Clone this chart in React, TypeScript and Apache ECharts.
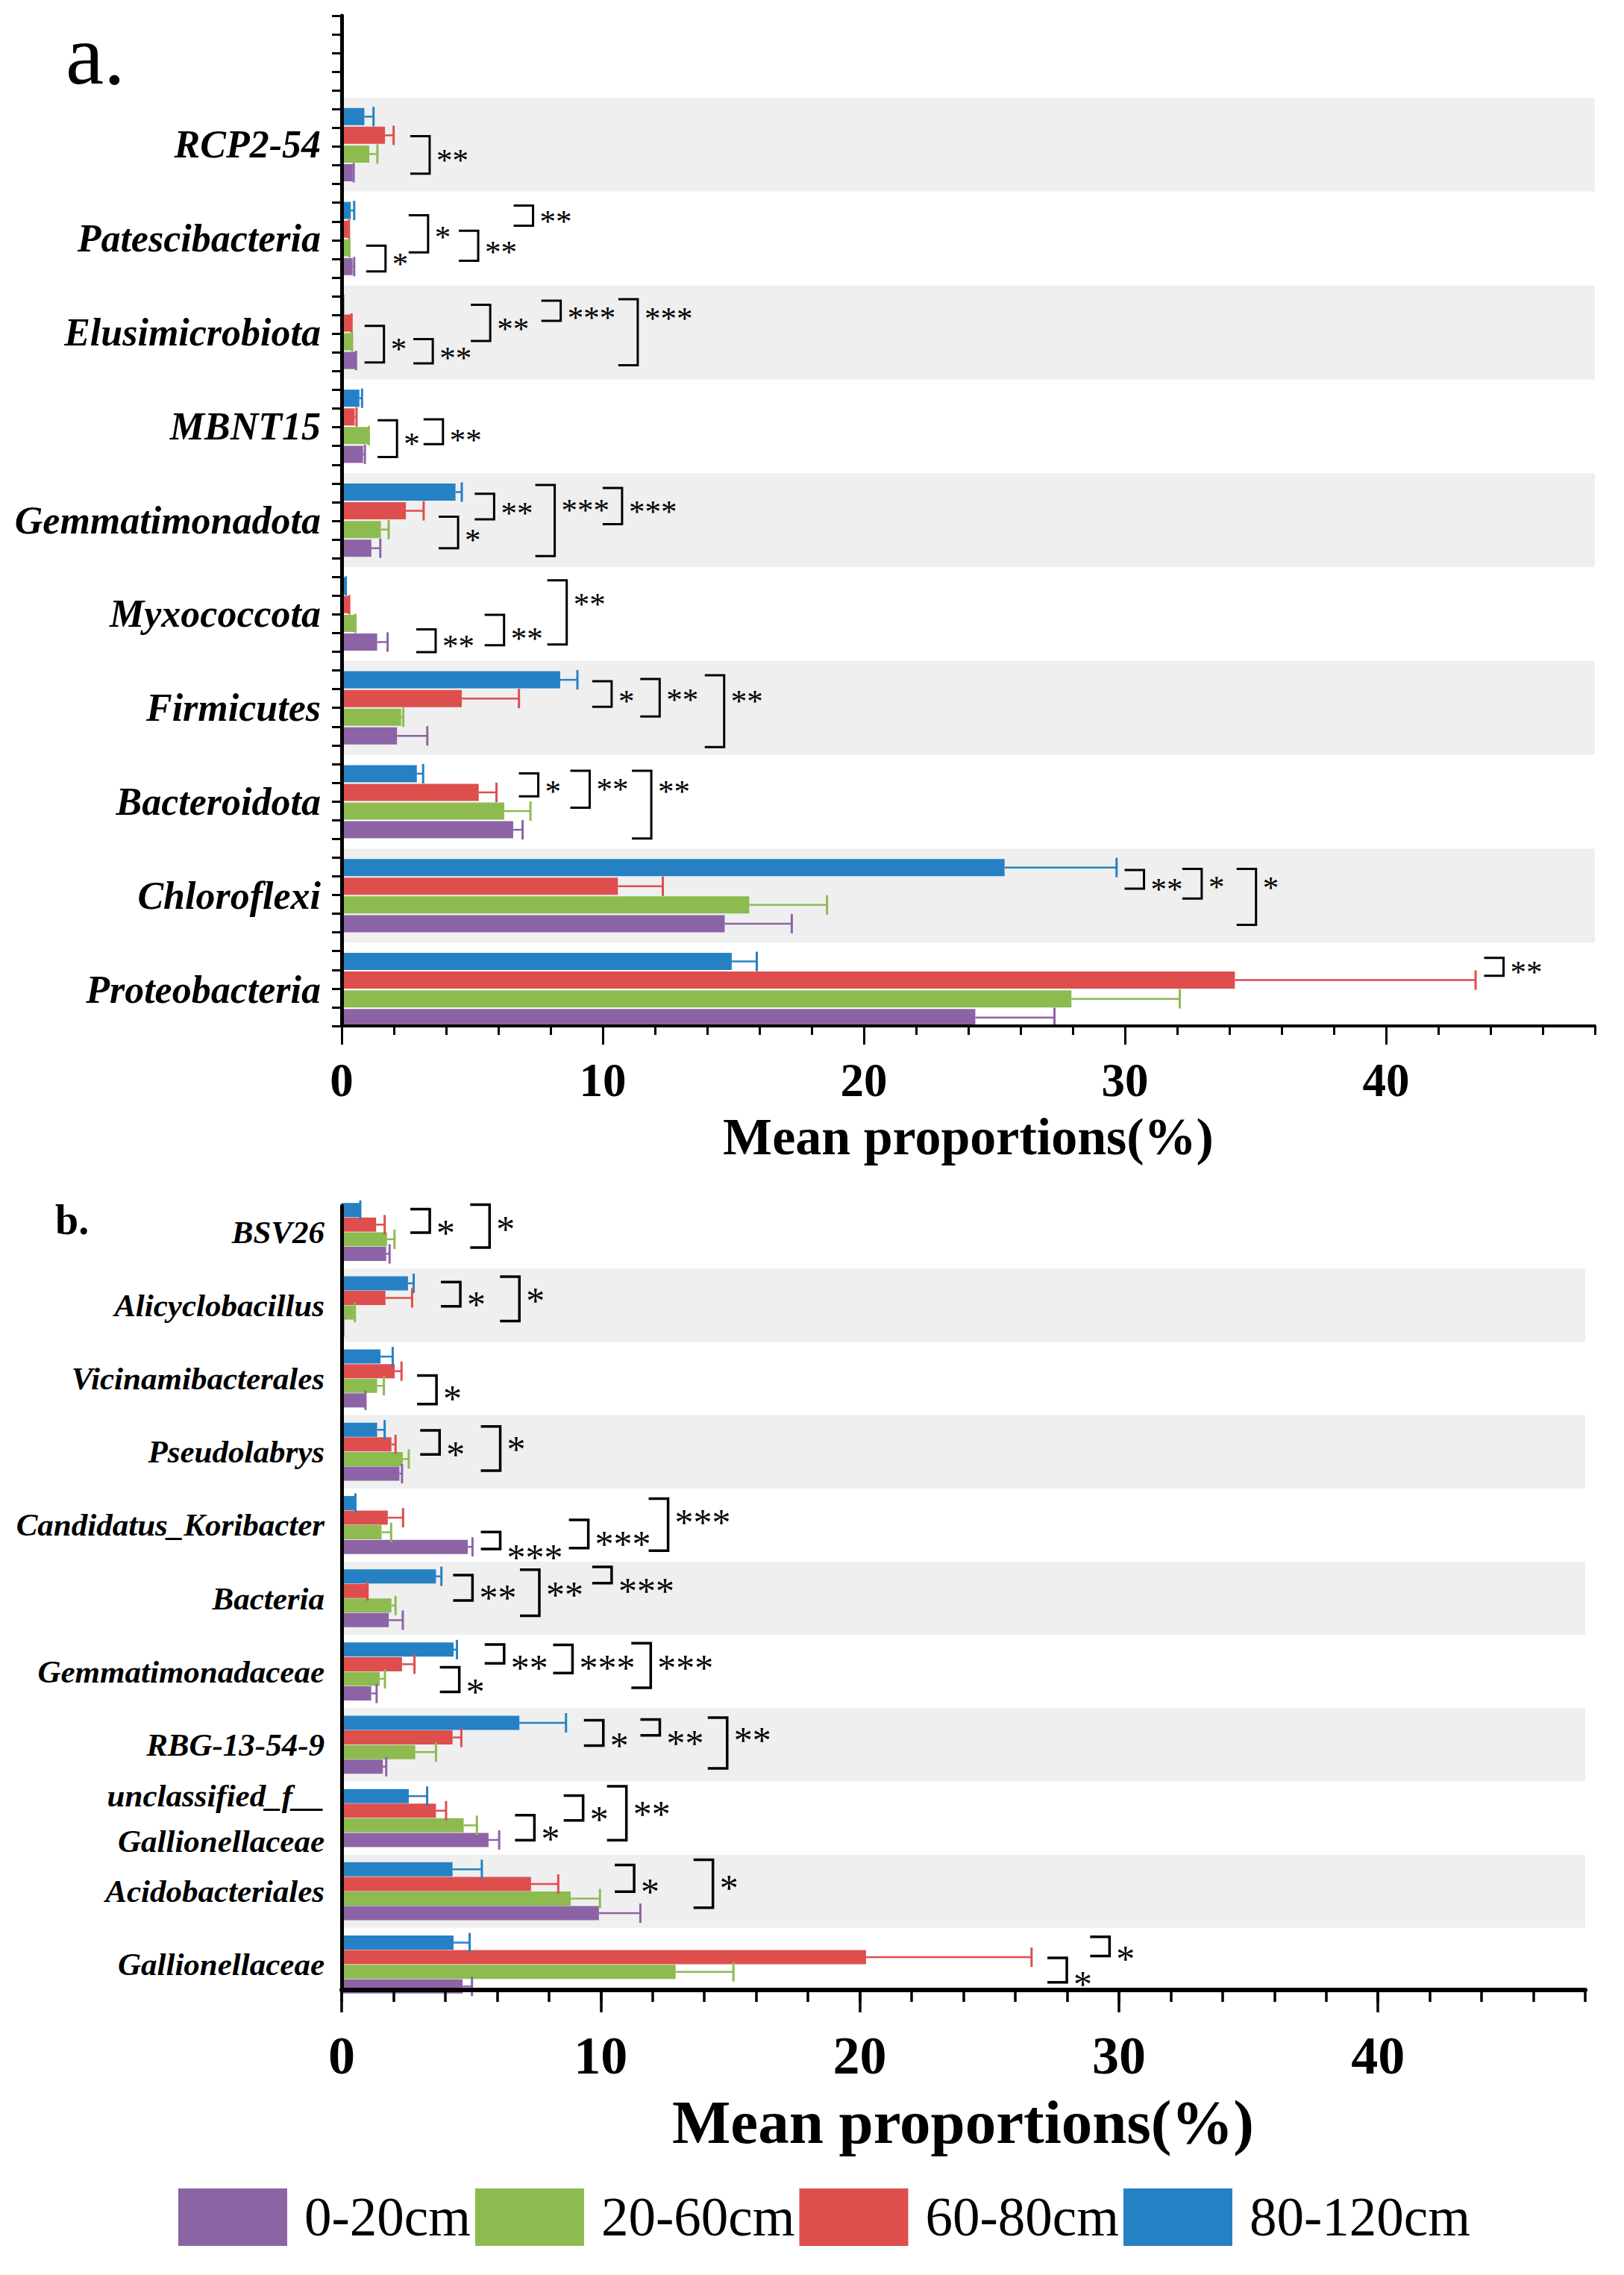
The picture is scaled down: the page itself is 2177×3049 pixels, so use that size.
import React, { useEffect, useRef } from 'react';
import * as echarts from 'echarts';

const FONT = '"Liberation Serif", "Times New Roman", serif';

// legend / series names (display order in legend)
const SERIES_NAMES = ['0-20cm', '20-60cm', '60-80cm', '80-120cm'];
const C_PURPLE = '#8C64A6';
const C_GREEN = '#8DBB50';
const C_RED = '#DE4E4D';
const C_BLUE = '#2581C4';

// ---------- Panel a (phyla), categories top to bottom ----------
const catsA = ['RCP2-54', 'Patescibacteria', 'Elusimicrobiota', 'MBNT15', 'Gemmatimonadota', 'Myxococcota', 'Firmicutes', 'Bacteroidota', 'Chloroflexi', 'Proteobacteria'];
const a0_20 = [0.42, 0.42, 0.52, 0.82, 1.14, 1.36, 2.12, 6.57, 14.67, 24.27];
const a0_20Err = [0.46, 0.48, 0.55, 0.89, 1.48, 1.76, 3.28, 6.93, 17.24, 27.3];
const a20_60 = [1.06, 0.27, 0.37, 1.02, 1.5, 0.51, 2.28, 6.23, 15.61, 27.95];
const a20_60Err = [1.37, 0.3, 0.4, 1.04, 1.8, 0.53, 2.36, 7.23, 18.59, 32.1];
const a60_80 = [1.66, 0.25, 0.35, 0.5, 2.46, 0.27, 4.6, 5.25, 10.58, 34.21];
const a60_80Err = [1.99, 0.28, 0.38, 0.57, 3.14, 0.29, 6.79, 5.93, 12.3, 43.43];
const a80_120 = [0.87, 0.35, 0.05, 0.68, 4.36, 0.15, 8.37, 2.88, 25.39, 14.94];
const a80_120Err = [1.22, 0.48, 0.06, 0.78, 4.6, 0.16, 9.03, 3.12, 29.68, 15.9];

// significance brackets: [category, x value, top slot, bottom slot, label slot, label]
const bracketsA: [number, number, number, number, number, string][] = [
  [0, 3.37, -0.45, 1.55, 0.58, '**'],
  [1, 1.68, 0.38, 1.76, 1.1, '*'],
  [1, 3.31, -1.24, 0.74, -0.32, '*'],
  [1, 5.23, -0.42, 1.19, 0.48, '**'],
  [1, 7.33, -1.76, -0.69, -1.17, '**'],
  [2, 1.62, -0.35, 1.61, 0.62, '*'],
  [2, 3.49, 0.36, 1.66, 1.13, '**'],
  [2, 5.69, -1.48, 0.46, -0.44, '**'],
  [2, 8.39, -1.7, -0.62, -1.02, '***'],
  [2, 11.34, -1.78, 1.76, -0.98, '***'],
  [3, 2.12, -0.32, 1.64, 0.7, '*'],
  [3, 3.88, -0.37, 0.96, 0.47, '**'],
  [4, 5.84, -1.41, -0.04, -0.64, '**'],
  [4, 4.46, -0.18, 1.5, 0.8, '*'],
  [4, 8.16, -1.88, 1.92, -0.8, '***'],
  [4, 10.74, -1.72, 0.22, -0.7, '***'],
  [5, 3.6, 0.82, 2.04, 1.46, '**'],
  [5, 6.22, 0.04, 1.67, 1.06, '**'],
  [5, 8.62, -1.8, 1.63, -0.78, '**'],
  [6, 10.34, -1.42, -0.06, -0.6, '*'],
  [6, 12.18, -1.54, 0.46, -0.67, '**'],
  [6, 14.65, -1.74, 2.1, -0.6, '**'],
  [7, 7.53, -1.52, -0.29, -0.8, '*'],
  [7, 9.5, -1.66, 0.32, -0.9, '**'],
  [7, 11.86, -1.66, 1.96, -0.8, '**'],
  [8, 30.73, -1.37, -0.37, -0.6, '**'],
  [8, 32.94, -1.43, 0.16, -0.73, '*'],
  [8, 35.02, -1.43, 1.56, -0.68, '*'],
  [9, 44.5, -1.69, -0.73, -1.2, '**'],
];

// ---------- Panel b (genera), categories top to bottom ----------
const catsB = ['BSV26', 'Alicyclobacillus', 'Vicinamibacterales', 'Pseudolabrys', 'Candidatus_Koribacter', 'Bacteria', 'Gemmatimonadaceae', 'RBG-13-54-9', 'unclassified_f__\nGallionellaceae', 'Acidobacteriales', 'Gallionellaceae'];
const b0_20 = [1.72, 0.05, 0.9, 2.23, 4.87, 1.82, 1.14, 1.59, 5.67, 9.93, 4.67];
const b0_20Err = [1.85, 0.06, 0.92, 2.33, 5.05, 2.36, 1.35, 1.72, 6.08, 11.53, 5.03];
const b20_60 = [1.75, 0.47, 1.37, 2.36, 1.54, 1.92, 1.47, 2.84, 4.71, 8.84, 12.89];
const b20_60Err = [2.04, 0.51, 1.63, 2.59, 1.91, 2.08, 1.67, 3.64, 5.22, 9.97, 15.12];
const b60_80 = [1.33, 1.69, 2.05, 1.92, 1.78, 0.99, 2.33, 4.28, 3.64, 7.31, 20.24];
const b60_80Err = [1.66, 2.72, 2.31, 2.08, 2.37, 1.0, 2.81, 4.62, 4.03, 8.36, 26.63];
const b80_120 = [0.7, 2.56, 1.5, 1.37, 0.51, 3.64, 4.32, 6.86, 2.59, 4.28, 4.32];
const b80_120Err = [0.72, 2.78, 1.97, 1.66, 0.53, 3.85, 4.45, 8.66, 3.3, 5.41, 4.94];

const bracketsB: [number, number, number, number, number, string][] = [
  [0, 3.4, -1.56, 0.05, -0.31, '*'],
  [0, 5.71, -1.87, 1.07, -0.58, '*'],
  [1, 4.58, -1.58, 0.07, -0.4, '*'],
  [1, 6.86, -1.95, 1.08, -0.67, '*'],
  [2, 3.66, -0.2, 1.75, 1.02, '*'],
  [3, 3.78, -1.46, 0.19, -0.17, '*'],
  [3, 6.12, -1.73, 1.29, -0.54, '*'],
  [4, 6.12, 0.48, 1.64, 1.85, '***'],
  [4, 9.52, -0.35, 1.58, 0.92, '***'],
  [4, 12.6, -1.81, 1.76, -0.53, '***'],
  [5, 5.05, -1.59, 0.15, -0.4, '**'],
  [5, 7.63, -1.95, 1.2, -0.59, '**'],
  [5, 10.42, -2.14, -1.04, -0.86, '***'],
  [6, 6.27, -1.85, -0.56, -0.62, '**'],
  [6, 4.54, -0.29, 1.39, 1.03, '*'],
  [6, 8.91, -1.82, 0.11, -0.62, '***'],
  [6, 11.93, -1.94, 1.12, -0.62, '***'],
  [7, 10.1, -1.68, 0.06, -0.3, '*'],
  [7, 12.28, -1.73, -0.64, -0.49, '**'],
  [7, 14.88, -1.86, 1.62, -0.67, '**'],
  [8, 7.44, -0.2, 1.52, 1.03, '*'],
  [8, 9.32, -1.54, 0.17, -0.26, '*'],
  [8, 10.99, -2.17, 1.52, -0.62, '**'],
  [9, 11.29, -1.8, 0.03, -0.33, '*'],
  [9, 14.33, -2.16, 1.13, -0.61, '*'],
  [10, 27.99, -0.45, 1.22, 0.95, '*'],
  [10, 29.64, -1.9, -0.58, -0.74, '*'],
];

const X_TICKS = [0, 10, 20, 30, 40];
// 54 tick slots on the left axis of panel a
const FRAME_SLOTS_A = Array.from({ length: 54 }, () => '');

function barSeries(name: string, color: string, data: number[], xi: number, yi: number, w: number, gap: string) {
  return {
    type: 'bar', name, xAxisIndex: xi, yAxisIndex: yi, data,
    barWidth: w, barGap: gap, z: 2, silent: true,
    itemStyle: { color },
  };
}

// position order inside a group, top to bottom: 80-120, 60-80, 20-60, 0-20
function errorSeries(vals: number[][], errs: number[][], colors: string[], xi: number, yi: number, pitch: number) {
  const data: number[][] = [];
  vals.forEach((arr, s) => arr.forEach((v, c) => data.push([v, errs[s][c], c, s])));
  return {
    type: 'custom', xAxisIndex: xi, yAxisIndex: yi, z: 3, silent: true,
    data, encode: { x: 1, y: 2 },
    renderItem: (params: any, api: any) => {
      const base = api.coord([api.value(0), api.value(2)]);
      const end = api.coord([api.value(1), api.value(2)]);
      const s = api.value(3);
      const y = base[1] + (s - 1.5) * pitch;
      const color = colors[s];
      const children: any[] = [];
      if (end[0] > base[0] + 0.5) {
        children.push({ type: 'line', shape: { x1: base[0], y1: y, x2: end[0], y2: y }, style: { stroke: color, lineWidth: 2.5 } });
      }
      children.push({ type: 'line', shape: { x1: end[0], y1: y - 13, x2: end[0], y2: y + 13 }, style: { stroke: color, lineWidth: 3 } });
      return { type: 'group', children };
    },
  };
}

function bracketSeries(rows: [number, number, number, number, number, string][], xi: number, yi: number, pitch: number, fs: number, lw: number) {
  const labels = rows.map((r) => r[5]);
  const data = rows.map((r) => [r[1], r[0], r[2], r[3], r[4]]);
  return {
    type: 'custom', xAxisIndex: xi, yAxisIndex: yi, z: 4, silent: true,
    data, encode: { x: 0, y: 1 },
    renderItem: (params: any, api: any) => {
      const p = api.coord([api.value(0), api.value(1)]);
      const x = p[0];
      const yT = p[1] + api.value(2) * pitch;
      const yB = p[1] + api.value(3) * pitch;
      const yL = p[1] + api.value(4) * pitch + fs * 0.14;
      return {
        type: 'group',
        children: [
          { type: 'polyline', shape: { points: [[x - 26, yT], [x, yT], [x, yB], [x - 26, yB]] }, style: { stroke: '#000', lineWidth: lw, fill: 'none' } },
          { type: 'text', x: x + 9, y: yL, style: { text: labels[params.dataIndex], fill: '#000', fontSize: fs, fontFamily: FONT, align: 'left', verticalAlign: 'middle' } },
        ],
      };
    },
  };
}

export default function App() {
  const ref = useRef<HTMLDivElement>(null);
  useEffect(() => {
    if (!ref.current) return;
    const chart = echarts.init(ref.current, undefined, { renderer: 'svg' });
    const pitchA = 23 * 1.09;
    const pitchB = 19 * 1.03;
    const posColors = [C_BLUE, C_RED, C_GREEN, C_PURPLE];
    const option: any = {
      animation: false,
      backgroundColor: '#fff',
      grid: [
        { left: 458, right: 39, top: 21, height: 1354, outerBoundsMode: 'none' },
        { left: 458, right: 39, top: 131, height: 1258, outerBoundsMode: 'none' },
        { left: 458, right: 52, top: 1616, height: 1051, outerBoundsMode: 'none' },
        { left: 458, right: 52, top: 1602, height: 1080, outerBoundsMode: 'none' },
      ],
      xAxis: [
        {
          gridIndex: 0, type: 'value', position: 'bottom', min: 0, max: 48, interval: 2, z: 6,
          axisLine: { show: true, lineStyle: { color: '#000', width: 4 } },
          axisTick: { show: true, length: 12, lineStyle: { color: '#000', width: 3 } },
          axisLabel: { formatter: (v: number) => (X_TICKS.includes(v) ? String(v) : ''), fontSize: 63, fontWeight: 'bold', fontFamily: FONT, color: '#000', margin: 41 },
          splitLine: { show: false },
        },
        {
          gridIndex: 0, type: 'value', position: 'bottom', offset: 0, min: 0, max: 48, interval: 2, z: 6,
          axisLine: { show: false },
          axisTick: { show: true, customValues: X_TICKS, length: 25, lineStyle: { color: '#000', width: 3 } },
          axisLabel: { show: false }, splitLine: { show: false },
        },
        { gridIndex: 1, type: 'value', position: 'bottom', min: 0, max: 48, show: false },
        {
          gridIndex: 2, type: 'value', position: 'bottom', min: 0, max: 48, interval: 2, z: 6,
          axisLine: { show: true, lineStyle: { color: '#000', width: 6 } },
          axisTick: { show: true, length: 16, lineStyle: { color: '#000', width: 3.5 } },
          axisLabel: { formatter: (v: number) => (X_TICKS.includes(v) ? String(v) : ''), fontSize: 72, fontWeight: 'bold', fontFamily: FONT, color: '#000', margin: 52 },
          splitLine: { show: false },
        },
        {
          gridIndex: 2, type: 'value', position: 'bottom', offset: 0, min: 0, max: 48, interval: 2, z: 6,
          axisLine: { show: false },
          axisTick: { show: true, customValues: X_TICKS, length: 30, lineStyle: { color: '#000', width: 3.5 } },
          axisLabel: { show: false }, splitLine: { show: false },
        },
        { gridIndex: 3, type: 'value', position: 'bottom', min: 0, max: 48, show: false },
      ],
      yAxis: [
        {
          gridIndex: 0, type: 'category', position: 'left', data: FRAME_SLOTS_A, boundaryGap: true, z: 6,
          axisLine: { show: true, lineStyle: { color: '#000', width: 5 } },
          axisTick: { show: true, interval: 0, alignWithLabel: false, length: 13, lineStyle: { color: '#000', width: 3 } },
          axisLabel: { show: false }, splitLine: { show: false }, splitArea: { show: false },
        },
        {
          gridIndex: 1, type: 'category', position: 'left', data: catsA, inverse: true,
          axisLine: { show: false }, axisTick: { show: false },
          axisLabel: { interval: 0, margin: 28, fontSize: 52, fontWeight: 'bold', fontStyle: 'italic', fontFamily: FONT, color: '#000', padding: [16, 0, 0, 0] },
          splitLine: { show: false },
          splitArea: { show: true, interval: 0, areaStyle: { color: ['#efefef', 'rgba(255,255,255,0)'] } },
        },
        {
          gridIndex: 2, type: 'value', position: 'left', min: 0, max: 1, z: 6,
          axisLine: { show: true, lineStyle: { color: '#000', width: 5 } },
          axisTick: { show: false }, axisLabel: { show: false }, splitLine: { show: false },
        },
        {
          gridIndex: 3, type: 'category', position: 'left', data: catsB, inverse: true,
          axisLine: { show: false }, axisTick: { show: false },
          axisLabel: { interval: 0, margin: 23, fontSize: 43, lineHeight: 61, fontWeight: 'bold', fontStyle: 'italic', fontFamily: FONT, color: '#000', align: 'right', padding: [0, 0, 9, 0] },
          splitLine: { show: false },
          splitArea: { show: true, interval: 0, areaStyle: { color: ['rgba(255,255,255,0)', '#efefef'] } },
        },
      ],
      legend: {
        data: SERIES_NAMES, left: 239, top: 2933, orient: 'horizontal',
        itemWidth: 146, itemHeight: 77, itemGap: 6, padding: 0, icon: 'rect', selectedMode: false,
        textStyle: { fontSize: 73, fontFamily: FONT, color: '#000', padding: [0, 0, 0, 18] },
      },
      graphic: [
        { type: 'text', x: 88, y: 73, style: { text: 'a.', fontSize: 115, fontFamily: FONT, fill: '#000', align: 'left', verticalAlign: 'middle' } },
        { type: 'text', x: 74, y: 1635, style: { text: 'b.', fontSize: 56, fontWeight: 'bold', fontFamily: FONT, fill: '#000', align: 'left', verticalAlign: 'middle' } },
        { type: 'text', x: 1298, y: 1523, style: { text: 'Mean proportions(%)', fontSize: 70, fontWeight: 'bold', fontFamily: FONT, fill: '#000', align: 'center', verticalAlign: 'middle' } },
        { type: 'text', x: 1291, y: 2844, style: { text: 'Mean proportions(%)', fontSize: 83, fontWeight: 'bold', fontFamily: FONT, fill: '#000', align: 'center', verticalAlign: 'middle' } },
      ],
      series: [
        barSeries(SERIES_NAMES[3], C_BLUE, a80_120, 2, 1, 23, '9%'),
        barSeries(SERIES_NAMES[2], C_RED, a60_80, 2, 1, 23, '9%'),
        barSeries(SERIES_NAMES[1], C_GREEN, a20_60, 2, 1, 23, '9%'),
        barSeries(SERIES_NAMES[0], C_PURPLE, a0_20, 2, 1, 23, '9%'),
        errorSeries([a80_120, a60_80, a20_60, a0_20], [a80_120Err, a60_80Err, a20_60Err, a0_20Err], posColors, 2, 1, pitchA),
        bracketSeries(bracketsA, 2, 1, pitchA, 43, 3),
        barSeries(SERIES_NAMES[3], C_BLUE, b80_120, 5, 3, 19, '3%'),
        barSeries(SERIES_NAMES[2], C_RED, b60_80, 5, 3, 19, '3%'),
        barSeries(SERIES_NAMES[1], C_GREEN, b20_60, 5, 3, 19, '3%'),
        barSeries(SERIES_NAMES[0], C_PURPLE, b0_20, 5, 3, 19, '3%'),
        errorSeries([b80_120, b60_80, b20_60, b0_20], [b80_120Err, b60_80Err, b20_60Err, b0_20Err], posColors, 5, 3, pitchB),
        bracketSeries(bracketsB, 5, 3, pitchB, 50, 3.5),
      ],
    };
    chart.setOption(option);
    return () => chart.dispose();
  }, []);
  return <div ref={ref} style={{ position: 'absolute', left: 0, top: 0, width: 2177, height: 3049, background: '#fff' }} />;
}
